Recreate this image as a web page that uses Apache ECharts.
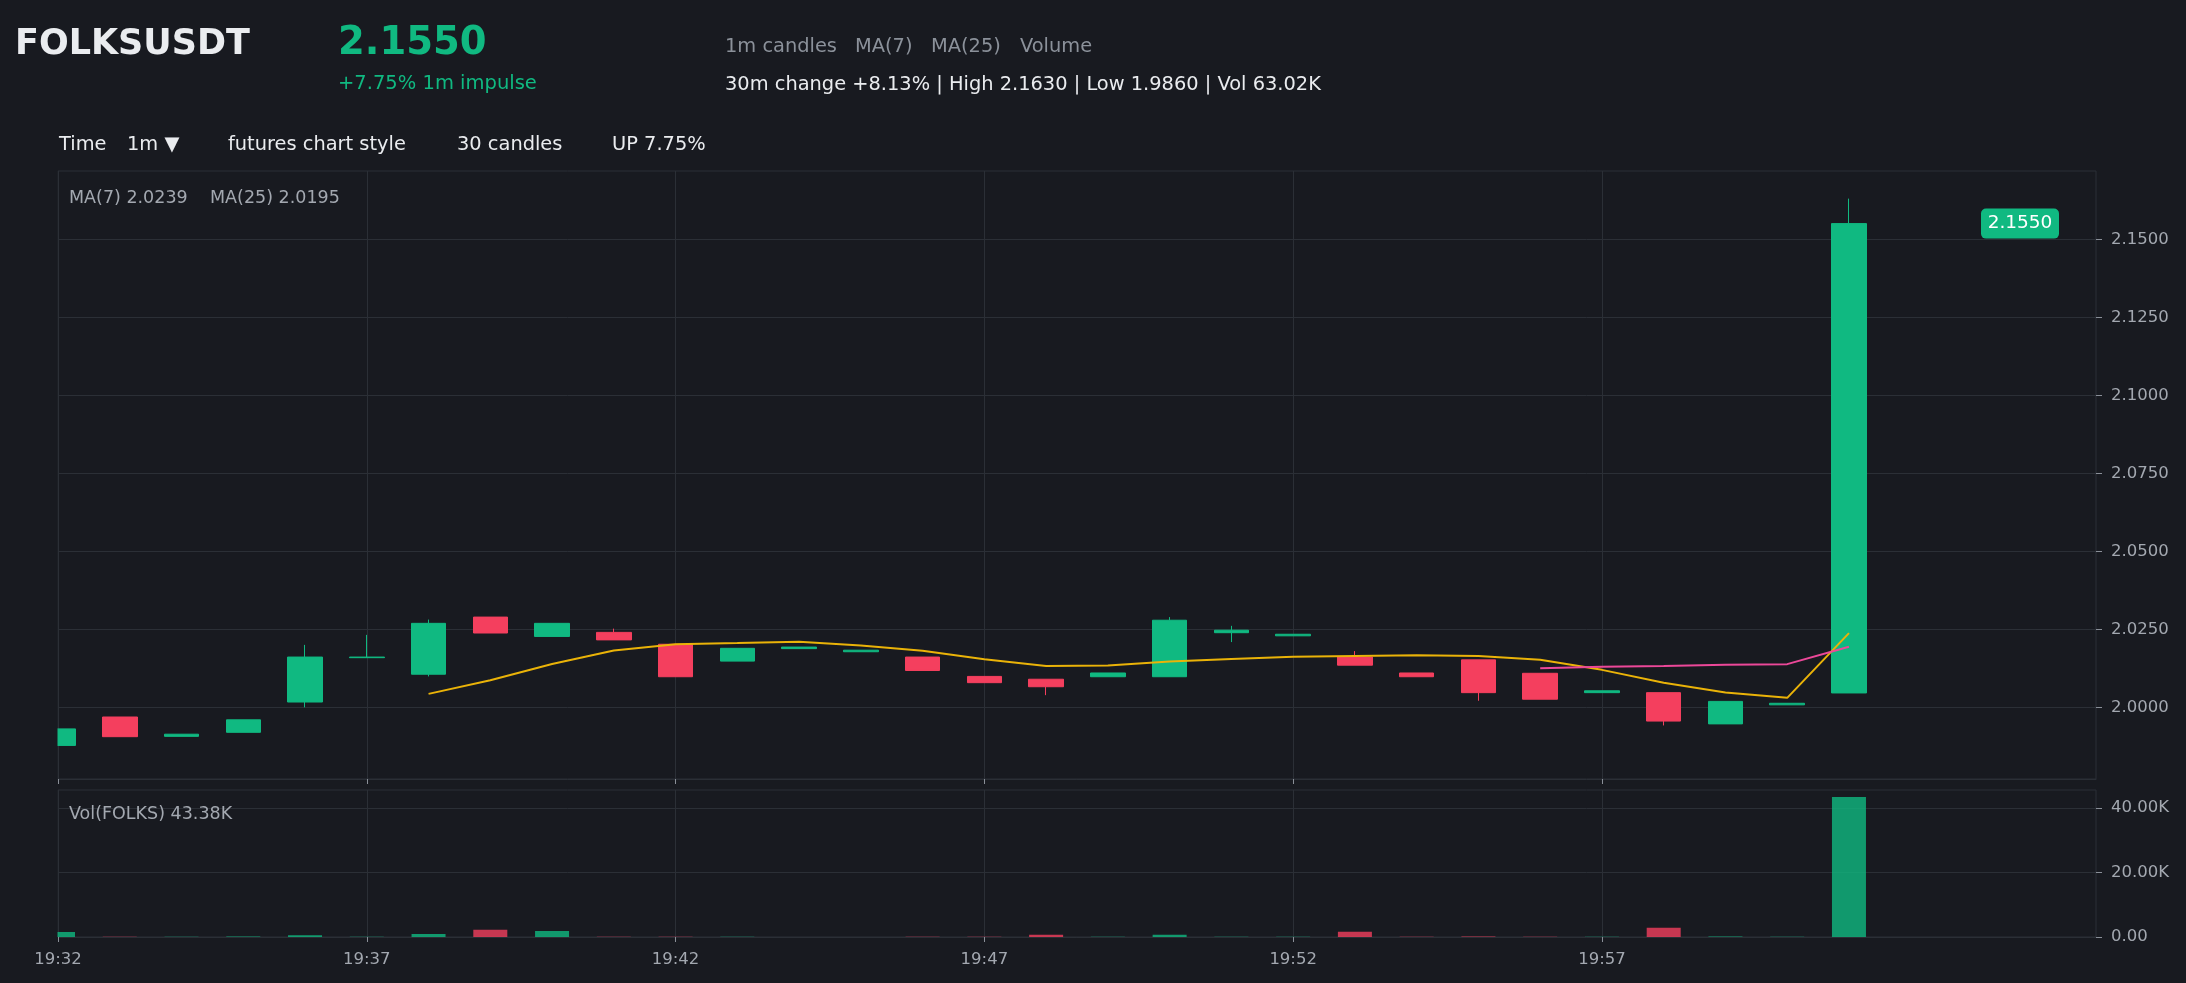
<!DOCTYPE html>
<html>
<head>
<meta charset="utf-8">
<title>FOLKSUSDT 1m</title>
<script src="https://cdn.jsdelivr.net/npm/echarts@6.0.0/dist/echarts.min.js"></script>
<style>
html, body { margin: 0; padding: 0; background: #181a20; }
#chart { width: 2186px; height: 983px; }
</style>
</head>
<body>
<div id="chart"></div>
<script>
// 1m candles, 19:32 .. 20:01
var times = ['19:32','19:33','19:34','19:35','19:36','19:37','19:38','19:39','19:40','19:41',
             '19:42','19:43','19:44','19:45','19:46','19:47','19:48','19:49','19:50','19:51',
             '19:52','19:53','19:54','19:55','19:56','19:57','19:58','19:59','20:00','20:01'];
var emptySlots = ['', '', '', ''];

var opens  = [1.9879, 1.9970, 1.9908, 1.9921, 2.0018, 2.0160, 2.0107, 2.0290, 2.0228, 2.0241,
              2.0203, 2.0149, 2.0189, 2.0179, 2.0162, 2.0100, 2.0091, 2.0099, 2.0099, 2.0240,
              2.0230, 2.0162, 2.0111, 2.0153, 2.0110, 2.0048, 2.0048, 1.9948, 2.0009, 2.0047];
var closes = [1.9932, 1.9907, 1.9915, 1.9961, 2.0162, 2.0162, 2.0270, 2.0239, 2.0270, 2.0217,
              2.0099, 2.0190, 2.0194, 2.0184, 2.0119, 2.0080, 2.0067, 2.0111, 2.0280, 2.0248,
              2.0235, 2.0136, 2.0099, 2.0048, 2.0027, 2.0054, 1.9957, 2.0020, 2.0014, 2.1550];
var lows   = [1.9879, 1.9907, 1.9908, 1.9921, 2.0001, 2.0160, 2.0100, 2.0239, 2.0228, 2.0217,
              2.0099, 2.0149, 2.0189, 2.0179, 2.0119, 2.0080, 2.0040, 2.0099, 2.0099, 2.0210,
              2.0230, 2.0136, 2.0099, 2.0022, 2.0027, 2.0048, 1.9943, 1.9948, 2.0009, 2.0047];
var highs  = [1.9932, 1.9970, 1.9915, 1.9961, 2.0201, 2.0233, 2.0282, 2.0290, 2.0270, 2.0253,
              2.0203, 2.0190, 2.0194, 2.0184, 2.0162, 2.0100, 2.0091, 2.0111, 2.0290, 2.0262,
              2.0235, 2.0181, 2.0111, 2.0153, 2.0110, 2.0054, 2.0048, 2.0020, 2.0014, 2.1630];
var volumes = [1570, 60, 40, 120, 520, 90, 940, 2250, 1880, 60,
               80, 50, 30, 30, 60, 40, 700, 50, 720, 60,
               40, 1650, 40, 150, 90, 60, 2880, 120, 110, 43380];

var priceTicks = [2.0000, 2.0250, 2.0500, 2.0750, 2.1000, 2.1250, 2.1500];
var volTicks = [0, 20000, 40000];
var rangeLow = 1.9860, rangeHigh = 2.1630;

var UP = '#10b981', DOWN = '#f43f5e';
var BG = '#181a20', GRID_LINE = '#2b2f36', AXIS_TEXT = '#a3a8b0';
var FONT = '"DejaVu Sans", "Noto Sans", sans-serif';

function movingAvg(n) {
    return closes.map(function (c, i) {
        if (i < n - 1) return '-';
        var s = 0;
        for (var k = i - n + 1; k <= i; k++) s += closes[k];
        return +(s / n).toFixed(5);
    });
}
var ma7 = movingAvg(7);
var ma25 = movingAvg(25);

var categories = times.concat(emptySlots);
function every5(idx) { return idx % 5 === 0 && idx < times.length; }

var candles = times.map(function (t, i) { return [opens[i], closes[i], lows[i], highs[i]]; });
var volBars = volumes.map(function (v, i) {
    return { value: v, itemStyle: { color: closes[i] >= opens[i] ? UP : DOWN, opacity: 0.8 } };
});

var pad = (rangeHigh - rangeLow) * 0.05;
var last = times.length - 1;

function txt(x, y, text, font, fill) {
    return { type: 'text', x: x, y: y, silent: true, z: 30,
             style: { text: text, font: font, fill: fill, verticalAlign: 'middle', textVerticalAlign: 'middle' } };
}

var dom = document.getElementById('chart');
var myChart = echarts.init(dom, null, { renderer: 'canvas' });

var xAxisBase = {
    type: 'category',
    boundaryGap: false,
    data: categories,
    axisLine: { show: true, lineStyle: { color: GRID_LINE } },
    axisTick: { show: true, interval: every5, length: 5, lineStyle: { color: '#8a8f98' } },
    splitLine: { show: true, interval: every5, lineStyle: { color: GRID_LINE } }
};

var option = {
    backgroundColor: BG,
    animation: false,
    textStyle: { fontFamily: FONT },
    grid: [
        { left: 58, top: 171, width: 2038, height: 608, show: true, borderColor: GRID_LINE },
        { left: 58, top: 790, width: 2038, height: 147, show: true, borderColor: GRID_LINE }
    ],
    xAxis: [
        echarts.util.merge({ gridIndex: 0, axisLabel: { show: false } }, xAxisBase),
        echarts.util.merge({ gridIndex: 1,
            axisLabel: { show: true, interval: every5, color: AXIS_TEXT, fontSize: 16.5, margin: 14 } }, xAxisBase)
    ],
    yAxis: [
        {
            gridIndex: 0, type: 'value', position: 'right', scale: true,
            min: rangeLow - pad, max: rangeHigh + pad,
            axisLine: { show: false },
            axisTick: { show: true, length: 6, customValues: priceTicks, lineStyle: { color: '#8a8f98' } },
            axisLabel: { customValues: priceTicks, color: AXIS_TEXT, fontSize: 16.5, margin: 15,
                         formatter: function (v) { return v.toFixed(4); } },
            splitLine: { show: true, lineStyle: { color: GRID_LINE } }
        },
        {
            gridIndex: 1, type: 'value', position: 'right',
            min: 0, max: function (v) { return v.max * 1.05; },
            axisLine: { show: false },
            axisTick: { show: true, length: 6, customValues: volTicks, lineStyle: { color: '#8a8f98' } },
            axisLabel: { customValues: volTicks, color: AXIS_TEXT, fontSize: 16.5, margin: 15,
                         formatter: function (v) { return v === 0 ? '0.00' : (v / 1000).toFixed(2) + 'K'; } },
            splitLine: { show: true, lineStyle: { color: GRID_LINE } }
        }
    ],
    series: [
        {
            name: 'Candles', type: 'candlestick',
            xAxisIndex: 0, yAxisIndex: 0,
            barWidth: 35, clip: true,
            data: candles,
            itemStyle: { color: UP, color0: DOWN, borderColor: UP, borderColor0: DOWN, borderWidth: 1 }
        },
        {
            name: 'MA(7)', type: 'line', xAxisIndex: 0, yAxisIndex: 0,
            data: ma7, showSymbol: false, symbol: 'none', smooth: false,
            lineStyle: { color: '#eab308', width: 2 }, z: 5
        },
        {
            name: 'MA(25)', type: 'line', xAxisIndex: 0, yAxisIndex: 0,
            data: ma25, showSymbol: false, symbol: 'none', smooth: false,
            lineStyle: { color: '#ec4899', width: 2 }, z: 5
        },
        {
            name: 'Volume', type: 'bar', xAxisIndex: 1, yAxisIndex: 1,
            barWidth: 34, clip: true,
            data: volBars
        }
    ],
    graphic: [
        // hides the half of the first candle / bar that falls left of the plot
        { type: 'rect', x: 0, y: 166, shape: { width: 57.5, height: 774 }, style: { fill: BG }, z: 25, silent: true },
        txt(15, 45, 'FOLKSUSDT', 'bold 35px ' + FONT, '#eaecef'),
        txt(338, 44, closes[last].toFixed(4), 'bold 38.5px ' + FONT, UP),
        txt(338, 84, '+7.75% 1m impulse', '19.5px ' + FONT, UP),
        txt(725, 47, '1m candles', '19.4px ' + FONT, '#8b919a'),
        txt(855, 47, 'MA(7)', '19.4px ' + FONT, '#8b919a'),
        txt(931, 47, 'MA(25)', '19.4px ' + FONT, '#8b919a'),
        txt(1020, 47, 'Volume', '19.4px ' + FONT, '#8b919a'),
        txt(725, 85, '30m change +8.13% | High 2.1630 | Low 1.9860 | Vol 63.02K', '19.4px ' + FONT, '#eaecef'),
        txt(59, 145, 'Time', '19.4px ' + FONT, '#eaecef'),
        txt(127, 145, '1m \u25BC', '19.4px ' + FONT, '#eaecef'),
        txt(228, 145, 'futures chart style', '19.4px ' + FONT, '#eaecef'),
        txt(457, 145, '30 candles', '19.4px ' + FONT, '#eaecef'),
        txt(612, 145, 'UP 7.75%', '19.4px ' + FONT, '#eaecef'),
        txt(69, 198, 'MA(7) ' + ma7[last].toFixed(4), '17.5px ' + FONT, '#a3a8b0'),
        txt(210, 198, 'MA(25) ' + ma25[last].toFixed(4), '17.5px ' + FONT, '#a3a8b0'),
        txt(69, 814, 'Vol(FOLKS) ' + (volumes[last] / 1000).toFixed(2) + 'K', '17.5px ' + FONT, '#a3a8b0')
    ]
};

if (option && typeof option === 'object') {
    myChart.setOption(option, true);
}

// last price tag, placed through the price axis
var tagY = myChart.convertToPixel({ yAxisIndex: 0 }, closes[last]);
myChart.setOption({
    graphic: option.graphic.concat([
        { type: 'rect', x: 1981, y: tagY - 15, shape: { width: 78, height: 30, r: 5 },
          style: { fill: UP }, z: 20 },
        { type: 'text', x: 2020, y: tagY, z: 21,
          style: { text: closes[last].toFixed(4), font: '18.5px ' + FONT, fill: '#ffffff',
                   align: 'center', verticalAlign: 'middle', textAlign: 'center', textVerticalAlign: 'middle' } }
    ])
});
</script>
</body>
</html>
